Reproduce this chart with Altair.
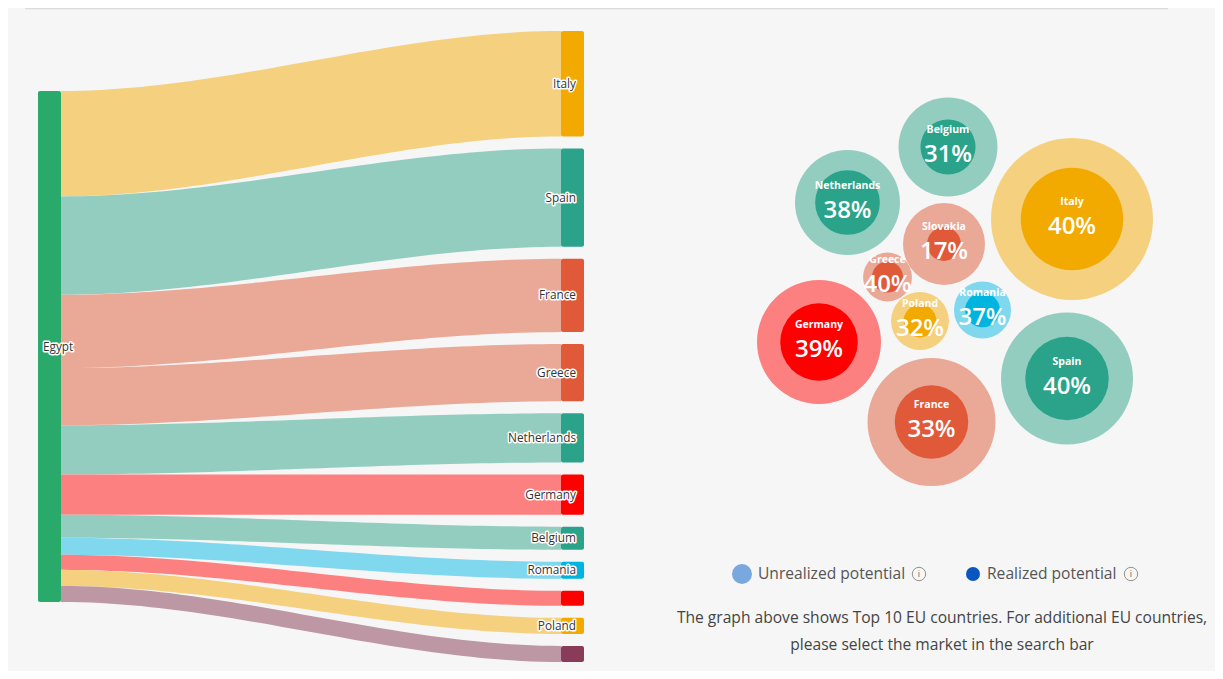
import altair as alt
import pandas as pd

W, H = 1207, 663
FONT = "Open Sans"

# ---------------- Sankey data ----------------
source_name = "Egypt"
target_ids = ["Italy", "Spain", "France", "Greece", "Netherlands", "Germany",
              "Belgium", "Romania", "T9", "Poland", "T11"]
target_labels = ["Italy", "Spain", "France", "Greece", "Netherlands", "Germany",
                 "Belgium", "Romania", "", "Poland", ""]
flows = [105, 98, 73, 57, 49, 40, 23, 17, 15, 16, 16]

# ---------------- Bubble data ----------------
bubble_names = ["Italy", "Spain", "France", "Germany", "Netherlands", "Belgium",
                "Slovakia", "Poland", "Romania", "Greece"]
bubble_potential = [100, 66.4, 62.4, 58.6, 42.0, 37.3, 25.6, 12.8, 12.4, 9.1]
bubble_pct = [40, 40, 33, 39, 38, 31, 17, 32, 37, 40]

# ---------------- styles / layout ----------------
base_col = {"Italy": "#f2a900", "Spain": "#2aa38a", "France": "#e05a3a", "Greece": "#e05a3a",
            "Netherlands": "#2aa38a", "Germany": "#ff0000", "Belgium": "#2aa38a",
            "Romania": "#00b4e0", "T9": "#ff0000", "Poland": "#f2a900", "T11": "#8a3b58",
            "Slovakia": "#e05a3a"}
light_of = {"#f2a900": "#f4d07f", "#2aa38a": "#92cdc0", "#e05a3a": "#eaa897",
            "#ff0000": "#fc8080", "#00b4e0": "#80d8ef", "#8a3b58": "#bd98a4"}
SRC_COLOR = "#2aaa6a"

X_SRC0, X_SRC1 = 30, 53
X_TGT0, X_TGT1 = 553, 576
SRC_TOP, SRC_H = 83, 511
TGT_TOP, GAP = 23, 12

bubble_cx = [1064, 1059, 923.5, 811, 839.5, 940, 936, 912, 974.5, 879.5]
bubble_cy = [211, 370.5, 414, 334, 194.5, 139, 236, 313, 302, 269]
R_MAX = 81

# ---------------- sankey layout ----------------
k = SRC_H / sum(flows)
rows = []
cum = 0.0
for i, (tid, lab, v) in enumerate(zip(target_ids, target_labels, flows)):
    s0 = SRC_TOP + k * cum
    s1 = s0 + k * v
    t0 = TGT_TOP + k * cum + i * GAP
    t1 = t0 + k * v
    c = base_col[tid]
    rows.append(dict(idx=i, name=tid, label=lab, value=v, s0=s0, s1=s1, t0=t0, t1=t1,
                     color=c, light=light_of[c], ymid=(t0 + t1) / 2))
    cum += v
links = pd.DataFrame(rows)

xs = alt.Scale(domain=[0, W], nice=False, zero=False)
ys = alt.Scale(domain=[0, H], nice=False, zero=False, reverse=True)


def X(f):
    return alt.X(f, scale=xs, axis=None)


def Y(f):
    return alt.Y(f, scale=ys, axis=None)


link_chart = alt.Chart(links).transform_calculate(
    t="sequence(0, 1.0001, 0.02)"
).transform_flatten(["t"]).transform_calculate(
    sm="3*datum.t*datum.t - 2*datum.t*datum.t*datum.t",
).transform_calculate(
    px=f"{X_SRC1} + datum.t*{X_TGT0 - X_SRC1}",
    ytop="datum.s0 + (datum.t0 - datum.s0)*datum.sm",
    ybot="datum.s1 + (datum.t1 - datum.s1)*datum.sm",
).mark_area(interpolate="linear").encode(
    x=X("px:Q"),
    y=alt.Y("ytop:Q", scale=ys, axis=None, stack=None),
    y2="ybot:Q",
    color=alt.Color("light:N", scale=None),
    detail="idx:N",
)

tgt_nodes = alt.Chart(links).transform_calculate(
    xa=str(X_TGT0), xb=str(X_TGT1)
).mark_rect(cornerRadius=2).encode(
    x=X("xa:Q"), x2="xb:Q", y=Y("t0:Q"), y2="t1:Q",
    color=alt.Color("color:N", scale=None),
)

src_df = pd.DataFrame({"name": [source_name], "y0": [SRC_TOP], "y1": [SRC_TOP + SRC_H],
                       "xa": [X_SRC0], "xb": [X_SRC1], "ymid": [SRC_TOP + SRC_H / 2],
                       "xl": [X_SRC0 + 5]})
src_node = alt.Chart(src_df).mark_rect(cornerRadius=2, color=SRC_COLOR).encode(
    x=X("xa:Q"), x2="xb:Q", y=Y("y0:Q"), y2="y1:Q")

lab_common = dict(fontSize=11.8, font=FONT, baseline="middle")
tgt_lab_halo = alt.Chart(links).transform_calculate(xl=str(X_TGT1 - 8)).mark_text(
    align="right", stroke="white", strokeWidth=3, strokeJoin="round", fill="white", **lab_common
).encode(x=X("xl:Q"), y=Y("ymid:Q"), text="label:N")
tgt_lab = alt.Chart(links).transform_calculate(xl=str(X_TGT1 - 8)).mark_text(
    align="right", color="#333333", **lab_common
).encode(x=X("xl:Q"), y=Y("ymid:Q"), text="label:N")
src_lab_halo = alt.Chart(src_df).mark_text(
    align="left", stroke="white", strokeWidth=3, strokeJoin="round", fill="white", **lab_common
).encode(x=X("xl:Q"), y=Y("ymid:Q"), text="name:N")
src_lab = alt.Chart(src_df).mark_text(align="left", color="#333333", **lab_common).encode(
    x=X("xl:Q"), y=Y("ymid:Q"), text="name:N")

# ---------------- bubbles ----------------
bub = pd.DataFrame({
    "name": bubble_names, "potential": bubble_potential, "pct": bubble_pct,
    "cx": bubble_cx, "cy": bubble_cy,
})
bub["color"] = [base_col[n] for n in bubble_names]
bub["light"] = [light_of[base_col[n]] for n in bubble_names]
bub["realized"] = bub["potential"] * bub["pct"] / 100.0
bub["pct_label"] = bub["pct"].astype(str) + "%"

# Vega circle symbol: diameter = sqrt(size)
size_scale = alt.Scale(domain=[0, 100], range=[0, 4 * R_MAX ** 2])

outer = alt.Chart(bub).mark_circle(opacity=1, strokeWidth=0).encode(
    x=X("cx:Q"), y=Y("cy:Q"),
    size=alt.Size("potential:Q", scale=size_scale, legend=None),
    color=alt.Color("light:N", scale=None),
)
inner = alt.Chart(bub).mark_circle(opacity=1, strokeWidth=0).encode(
    x=X("cx:Q"), y=Y("cy:Q"),
    size=alt.Size("realized:Q", scale=size_scale, legend=None),
    color=alt.Color("color:N", scale=None),
)
bname = alt.Chart(bub).mark_text(
    font=FONT, fontSize=10.5, fontWeight="bold", color="white", dy=-17, baseline="middle"
).encode(x=X("cx:Q"), y=Y("cy:Q"), text="name:N")
bpct = alt.Chart(bub).mark_text(
    font=FONT, fontSize=24, fontWeight=600, color="white", dy=8, baseline="middle"
).encode(x=X("cx:Q"), y=Y("cy:Q"), text="pct_label:N")

# ---------------- legend & note ----------------
legend_labels = ["Unrealized potential", "Realized potential"]
legend_colors = ["#78a8de", "#0a56c0"]
leg = pd.DataFrame({
    "label": legend_labels, "color": legend_colors,
    "cx": [734, 965], "tx": [750, 979], "ix": [911, 1123], "cy": [566, 566],
    "sz": [400, 196],
})
leg_dots = alt.Chart(leg).mark_circle(opacity=1).encode(
    x=X("cx:Q"), y=Y("cy:Q"), size=alt.Size("sz:Q", scale=None, legend=None),
    color=alt.Color("color:N", scale=None))
leg_text = alt.Chart(leg).mark_text(
    font=FONT, fontSize=15.6, color="#555555", align="left", baseline="middle"
).encode(x=X("tx:Q"), y=Y("cy:Q"), text="label:N")
leg_icon = alt.Chart(leg).mark_circle(filled=False, stroke="#666666", strokeWidth=1, size=180).encode(
    x=X("ix:Q"), y=Y("cy:Q"))
leg_icon_i = alt.Chart(leg).transform_calculate(i="'i'").mark_text(
    font=FONT, fontSize=9, color="#666666", baseline="middle"
).encode(x=X("ix:Q"), y=Y("cy:Q"), text="i:N")

note_lines = ["The graph above shows Top 10 EU countries. For additional EU countries,",
              "please select the market in the search bar"]
note = pd.DataFrame({"line": note_lines, "x": [934, 934], "y": [610, 637]})
note_text = alt.Chart(note).mark_text(
    font=FONT, fontSize=15.6, color="#444444", baseline="middle"
).encode(x=X("x:Q"), y=Y("y:Q"), text="line:N")

top_rule = alt.Chart(note).mark_rule(color="#dddddd", strokeWidth=1.5).encode(
    x=alt.value(17), x2=alt.value(1160), y=alt.value(0.5))

chart = alt.layer(
    top_rule, link_chart, tgt_nodes, src_node,
    tgt_lab_halo, tgt_lab, src_lab_halo, src_lab,
    outer, inner, bname, bpct,
    leg_dots, leg_text, leg_icon, leg_icon_i, note_text,
).properties(
    width=W, height=H, background="#f6f6f6", padding=0,
    autosize=alt.AutoSizeParams(type="none"),
).configure_view(stroke=None)

chart.save("out.html", embed_options={"renderer": "svg", "actions": False})
